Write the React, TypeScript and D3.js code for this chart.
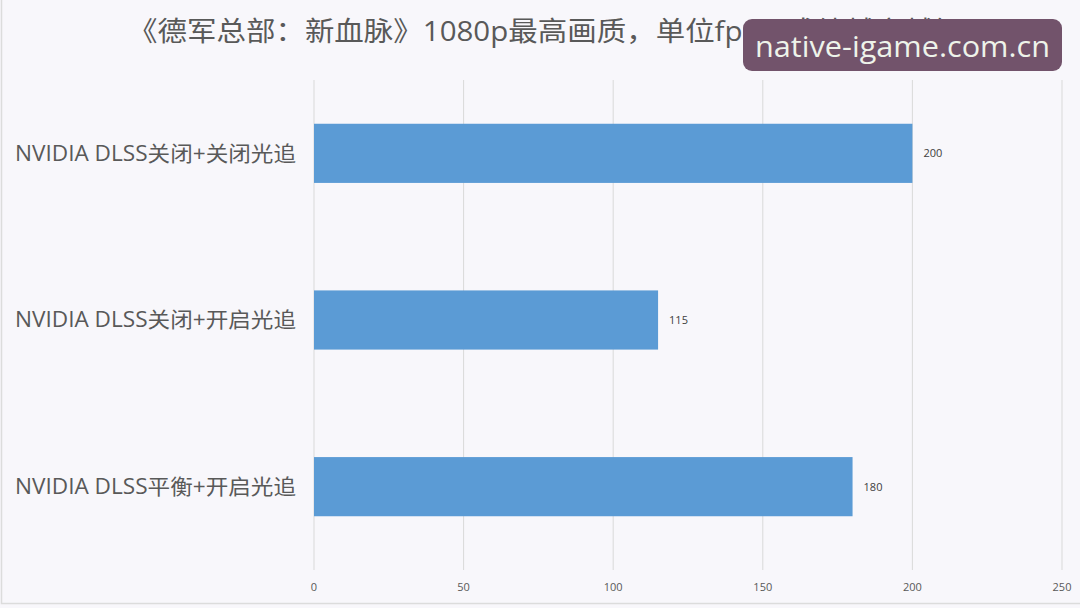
import React from "react";
import * as d3 from "d3";

const categories = [
  "NVIDIA DLSS关闭+关闭光追",
  "NVIDIA DLSS关闭+开启光追",
  "NVIDIA DLSS平衡+开启光追",
];
const values = [200, 115, 180];
const xTicks = [0, 50, 100, 150, 200, 250];
const title = "《德军总部：新血脉》1080p最高画质，单位fps，成绩越高越好";
const watermark = "native-igame.com.cn";

const W = 1080;
const H = 608;

export default function App() {
  const x = d3.scaleLinear().domain([0, 250]).range([314, 1062]);
  const y = d3
    .scaleBand<string>()
    .domain(categories)
    .range([70, 570])
    .paddingInner(0.645)
    .paddingOuter(0.3225);
  const font = "'Open Sans', 'Noto Sans CJK SC', sans-serif";
  return (
    <svg
      width={W}
      height={H}
      style={{ position: "absolute", left: 0, top: 0 }}
      fontFamily={font}
    >
      <rect x={0} y={0} width={W} height={H} fill="#f8f7fb" />
      <rect x={1.5} y={-2} width={W + 4} height={H - 2.5} fill="none" stroke="#dcdcdc" strokeWidth={1.5} />
      {xTicks.map((t) => (
        <line key={"g" + t} x1={x(t)} x2={x(t)} y1={80} y2={570} stroke="#d9d9d9" strokeWidth={1} />
      ))}
      {categories.map((c, i) => (
        <g key={c}>
          <rect
            x={x(0)}
            y={y(c)!}
            width={x(values[i]) - x(0)}
            height={y.bandwidth()}
            fill="#5b9bd5"
          />
          <text
            x={x(values[i]) + 11}
            y={y(c)! + y.bandwidth() / 2}
            dy="0.35em"
            fontSize={11}
            fill="#404040"
          >
            {values[i]}
          </text>
          <text
            x={15}
            y={y(c)! + y.bandwidth() / 2}
            dy="0.35em"
            fontSize={21}
            fill="#595959"
            textLength={281}
            lengthAdjust="spacingAndGlyphs"
          >
            {c}
          </text>
        </g>
      ))}
      {xTicks.map((t) => (
        <text key={"t" + t} x={x(t)} y={591} textAnchor="middle" fontSize={11} fill="#595959">
          {t}
        </text>
      ))}
      <text
        x={128}
        y={41}
        fontSize={27}
        fill="#595959"
        textLength={835}
        lengthAdjust="spacingAndGlyphs"
      >
        {title}
      </text>
      <rect x={743} y={19} width={319} height={52} rx={9} fill="#72536b" />
      <text
        x={755}
        y={46}
        dy="0.35em"
        fontSize={30}
        fill="#eef3ea"
        fontFamily="'Open Sans', sans-serif"
        textLength={295}
        lengthAdjust="spacingAndGlyphs"
      >
        {watermark}
      </text>
    </svg>
  );
}
